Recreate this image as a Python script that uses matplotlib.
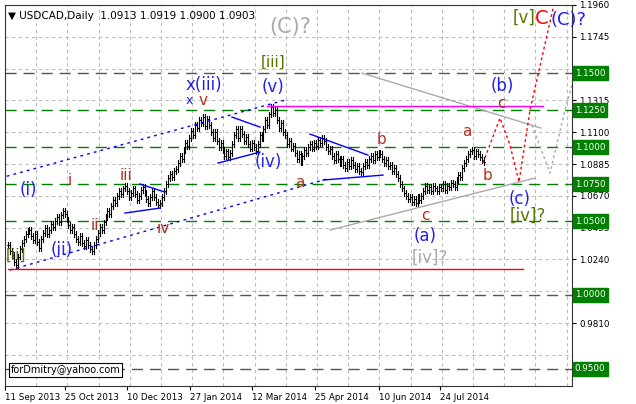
import matplotlib
matplotlib.use("Agg")
import matplotlib.pyplot as plt

closes = [1.034,1.030,1.027,1.022,1.020,
1.026,1.031,1.035,1.038,1.041,1.043,1.044,
1.040,1.037,1.041,1.036,1.032,1.038,1.042,1.045,1.041,
1.044,1.048,1.046,1.050,1.053,1.049,1.054,1.057,1.055,
1.051,1.047,1.044,1.046,1.041,1.038,1.036,1.040,1.035,1.033,1.037,1.034,1.031,1.030,
1.034,1.038,1.042,1.046,1.044,1.049,1.053,1.057,1.055,1.060,1.064,1.062,1.067,1.070,1.068,1.072,1.074,
1.070,1.066,1.069,1.072,1.068,1.064,1.067,1.071,1.073,1.069,1.065,1.062,1.066,1.070,1.066,1.063,1.061,1.062,
1.066,1.070,1.075,1.079,1.082,1.080,1.084,1.085,1.089,1.094,1.092,1.098,1.103,1.101,1.106,1.111,1.108,1.115,1.113,1.118,1.116,1.120,
1.114,1.119,1.115,1.110,1.106,1.110,1.104,1.100,1.103,1.098,1.094,1.097,1.093,1.096,
1.102,1.108,1.112,1.106,1.112,1.109,1.104,1.107,1.102,1.099,1.103,1.100,1.097,
1.102,1.108,1.106,1.112,1.118,1.115,1.122,1.127,
1.123,1.125,1.118,1.113,1.116,1.110,1.108,1.102,1.104,1.099,1.101,1.096,1.092,1.095,1.090,
1.094,1.098,1.096,1.100,1.102,1.099,1.103,1.101,1.105,1.103,1.106,1.104,
1.100,1.097,1.099,1.094,1.091,1.095,1.092,1.089,1.092,1.088,1.086,1.090,1.087,1.091,1.088,1.085,1.087,1.084,1.083,
1.087,1.090,1.088,1.092,1.094,1.091,1.095,1.093,1.096,1.095,
1.092,1.089,1.091,1.087,1.088,1.084,1.086,1.082,1.079,1.075,1.072,1.069,1.067,1.065,1.066,1.063,1.065,1.062,1.066,1.064,
1.067,1.070,1.074,1.071,1.073,1.070,1.074,1.072,1.070,1.073,1.072,1.075,1.071,1.074,1.073,1.076,1.075,1.073,1.078,1.081,1.080,
1.086,1.089,1.092,1.095,1.097,1.098,1.094,1.097,1.095,1.093,1.091,1.090]
date_labels = ["11 Sep 2013","25 Oct 2013","10 Dec 2013","27 Jan 2014","12 Mar 2014","25 Apr 2014","10 Jun 2014","24 Jul 2014"]
date_px = [5,65,127,190,252,315,379,440]
grid_prices = [1.1960,1.1745,1.1530,1.1315,1.1100,1.0885,1.0670,1.0455,1.0240,1.0025,0.9810,0.9595]
label_prices = [1.1960,1.1745,1.1315,1.1100,1.0885,1.0670,1.0455,1.0240,0.9810]
level_prices = [1.1500,1.1250,1.1000,1.0750,1.0500,1.0000,0.9500]
level_colors = ['#555555','green','green','green','green','#555555','#555555']

W,H=636,404
fig=plt.figure(figsize=(W/100,H/100),dpi=100)
L,R,T,B=5,572,5,386
ax=fig.add_axes([L/W,1-B/H,(R-L)/W,(B-T)/H])
def ix(px): return (px-8)/1.95
def pr(py): return 1.1993-py/1480
ax.set_xlim(ix(L),ix(R)); ax.set_ylim(pr(B),pr(T))
def P(px,py): return ix(px),pr(py)

for p in grid_prices:
    ax.axhline(p,color='#bbbbbb',ls=(0,(3,3)),lw=0.8)
for k in range(20):
    ax.axvline(ix(5+31.2*k),color='#bbbbbb',ls=(0,(3,3)),lw=0.8)
for p,c in zip(level_prices,level_colors):
    ax.axhline(p,color=c,ls=(0,(8,5)),lw=1)

prev=closes[0]
for i,c in enumerate(closes):
    o=prev; hi=max(o,c)+0.002; lo=min(o,c)-0.002
    ax.plot([i,i],[lo,hi],color='black',lw=0.8)
    ax.plot([i-0.5,i],[o,o],color='black',lw=0.6)
    ax.plot([i,i+0.5],[c,c],color='black',lw=0.6)
    prev=c

def seg(pts,**kw):
    xs=[ix(a) for a,b in pts]; ys=[pr(b) for a,b in pts]
    ax.plot(xs,ys,**kw)
seg([(0,178),(285,100)],color='blue',ls=(0,(2,3)),lw=1)
seg([(10,270),(330,178)],color='blue',ls=(0,(2,3)),lw=1)
for s in [[(140,184),(165,192)],[(125,213),(160,208)],[(232,117),(260,127)],[(218,163),(260,152)],[(310,134),(368,155)],[(323,180),(383,175)]]:
    seg(s,color='blue',lw=1)
seg([(330,230),(535,178)],color='#aaaaaa',lw=1)
seg([(362,73),(541,128)],color='#aaaaaa',lw=1)
seg([(483,163),(500,118),(510,145),(519,182),(530,110),(555,0)],color='red',ls=(0,(2,2)),lw=1)
seg([(532,125),(550,173),(565,110),(572,85)],color='#aaaaaa',ls=(0,(2,2)),lw=1)
seg([(8,269),(523,269)],color='red',lw=1)
seg([(267,106),(543,106)],color='magenta',lw=1)

def t(px,py,s,c,fs=11):
    x,y=P(px,py); ax.text(x,y,s,color=c,fontsize=fs,ha='center',va='center',clip_on=False)
br='#b03020'; bl='#2020ee'; gr='#557700'; gy='#aaaaaa'
t(290,27,"(C)?",gy,15); t(273,62,"[iii]",gr,11); t(273,87,"(v)",bl,12)
t(204,85,"x(iii)",bl,12); t(189,100,"x",bl,9); t(203,100,"v",br,11)
t(268,162,"(iv)",bl,12); t(300,182,"a",br,11); t(382,139,"b",br,11)
t(425,215,"c",br,11); t(425,236,"(a)",bl,12); t(430,258,"[iv]?",gy,12)
t(467,131,"a",br,11); t(488,175,"b",br,11); t(502,86,"(b)",bl,12); t(501,103,"c",br,11)
t(520,199,"(c)",bl,12); t(528,216,"[iv]?",gr,12)
t(126,175,"iii",br,11); t(70,180,"i",br,11); t(95,225,"ii",br,11); t(163,228,"iv",br,11)
t(28,190,"(i)",bl,12); t(62,250,"(ii)",bl,12); t(16,255,"[ii]",gr,11)
t(524,18,"[v]",gr,12); t(542,18,"C",'red',14); t(568,20,"(C)?",bl,13)
ax.text(0.005,0.985,"\u25bc USDCAD,Daily  1.0913 1.0919 1.0900 1.0903",transform=ax.transAxes,fontsize=7.5,va='top')
ax.text(0.01,0.03,"forDmitry@yahoo.com",transform=ax.transAxes,fontsize=7,va='bottom',
        bbox=dict(boxstyle='square,pad=0.2',fc='white',ec='black',lw=0.8))

ax.set_xticks([ix(p) for p in date_px]); ax.set_xticklabels(date_labels,fontsize=6.3,ha='left')
ax.yaxis.tick_right(); ax.set_yticks(label_prices)
ax.set_yticklabels([f"{p:.4f}" for p in label_prices],fontsize=6.3)
ax.tick_params(length=3,pad=2)
for p in level_prices:
    ax.text(1.005,p,f"{p:.4f}",transform=ax.get_yaxis_transform(),fontsize=6.3,color='white',
            va='center',ha='left',bbox=dict(boxstyle='square,pad=0.25',fc='green',ec='green'))
for s in ax.spines.values(): s.set_color('#333333')
fig.savefig("out.png",dpi=100)
